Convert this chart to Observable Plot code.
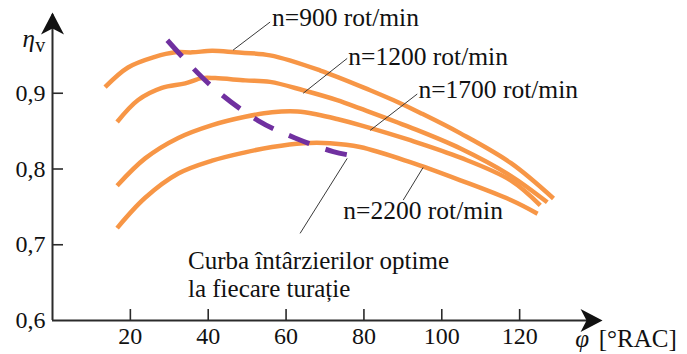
<!DOCTYPE html>
<html>
<head>
<meta charset="utf-8">
<script src="https://cdn.jsdelivr.net/npm/d3@7"></script>
<script src="https://cdn.jsdelivr.net/npm/@observablehq/plot@0.6"></script>
<style>
  html, body { margin: 0; padding: 0; background: #fff; }
  #chart svg { display: block; }
  #chart svg, #chart svg text {
    font-family: "Liberation Serif", "Times New Roman", serif !important;
  }
</style>
</head>
<body>
<div id="chart"></div>
<script>
// Volumetric efficiency vs. intake-valve closing delay, per engine speed
const phi900  = [13.5, 19.4, 26.3, 31.5, 35.9, 41.0, 46.9, 55.9, 68.8, 81.6, 87.5, 94.5, 104.8, 117.7, 128.7];
const eta900  = [0.908, 0.934, 0.948, 0.954, 0.954, 0.956, 0.954, 0.950, 0.930, 0.904, 0.891, 0.874, 0.847, 0.808, 0.761];

const phi1200 = [16.6, 22.0, 28.1, 34.1, 38.4, 41.8, 49.5, 55.9, 64.4, 73.1, 79.0, 91.9, 104.8, 117.7, 127.1];
const eta1200 = [0.862, 0.891, 0.907, 0.913, 0.920, 0.920, 0.917, 0.915, 0.904, 0.891, 0.880, 0.855, 0.827, 0.791, 0.756];

const phi1700 = [16.6, 23.8, 32.3, 41.0, 49.5, 56.4, 62.9, 68.0, 73.1, 79.0, 91.9, 104.8, 117.7, 125.3];
const eta1700 = [0.778, 0.814, 0.841, 0.858, 0.869, 0.875, 0.876, 0.872, 0.866, 0.858, 0.838, 0.815, 0.785, 0.752];

const phi2200 = [16.6, 23.8, 32.3, 41.0, 49.5, 56.4, 64.4, 71.3, 79.0, 91.9, 104.8, 117.7, 124.6];
const eta2200 = [0.722, 0.762, 0.794, 0.811, 0.822, 0.829, 0.834, 0.834, 0.829, 0.809, 0.785, 0.759, 0.741];

// Curve of optimum delays (dashed)
const phiOpt = [29.5, 40.5, 52.8, 62.3, 72.1, 77.8];
const etaOpt = [0.970, 0.911, 0.864, 0.841, 0.823, 0.817];

// Axis ticks
const xTicks = [20, 40, 60, 80, 100, 120];
const yTicks = [0.6, 0.7, 0.8, 0.9];
const yTickLabels = ["0,6", "0,7", "0,8", "0,9"];

// Speed labels and their leader lines (data units)
const labelText = ["n=900 rot/min", "n=1200 rot/min", "n=1700 rot/min", "n=2200 rot/min"];
const labelX = [56.4, 76.0, 94.0, 74.7];
const labelY = [1.000, 0.948, 0.905, 0.745];

// Note for the dashed curve
const noteText = "Curba întârzierilor optime\nla fiecare turație";
const noteX = 34.8;
const noteY = 0.6947;

const leadX1 = [46.4, 64.4, 81.6, 95.2, 75.7];
const leadY1 = [0.957, 0.900, 0.851, 0.802, 0.814];
const leadX2 = [55.9, 75.7, 93.7, 90.1, 63.6];
const leadY2 = [0.994, 0.946, 0.899, 0.759, 0.715];

// Axis extents (arrow tips)
const xTip = 141.3;
const yTip = 1.0066;

// ---- build tables ----
const series = [
  {phi: phi900, eta: eta900, n: 900},
  {phi: phi1200, eta: eta1200, n: 1200},
  {phi: phi1700, eta: eta1700, n: 1700},
  {phi: phi2200, eta: eta2200, n: 2200}
];
const curves = series.flatMap(s => s.phi.map((p, i) => ({phi: p, eta: s.eta[i], n: s.n})));
const optimum = phiOpt.map((p, i) => ({phi: p, eta: etaOpt[i]}));
const labels = labelText.map((t, i) => ({t, x: labelX[i], y: labelY[i]}));
const leaders = leadX1.map((x, i) => ({x1: x, y1: leadY1[i], x2: leadX2[i], y2: leadY2[i]}));
const yLabelOf = new Map(yTicks.map((v, i) => [v, yTickLabels[i]]));

const W = 687, H = 354;
const mL = 52, mR = 90, mT = 17, mB = 34;
const frameW = W - mL - mR;
const frameH = H - mT - mB;
const tickLen = 11;

const serif = "Liberation Serif, Times New Roman, serif";
const orange = "#F79646";
const purple = "#7030A0";
const axisColor = "#2b2b2b";
const ink = "#111";
const labelSize = 25.5;

// Filled arrowhead with a notched back, tip at the origin, pointing up
const arrowHead = {
  draw(ctx) {
    ctx.moveTo(0, 0);
    ctx.lineTo(11.5, 22);
    ctx.lineTo(0, 16);
    ctx.lineTo(-11.5, 22);
    ctx.closePath();
  }
};

const chart = Plot.plot({
  width: W,
  height: H,
  marginLeft: mL,
  marginRight: mR,
  marginTop: mT,
  marginBottom: mB,
  style: {fontFamily: serif, background: "#fff", color: ink, overflow: "visible"},
  x: {domain: [0, 140], label: null},
  y: {domain: [0.6, 1.0], label: null},
  marks: [
    // axis lines
    Plot.ruleY([0.6], {x1: 0, x2: xTip - 2, stroke: axisColor, strokeWidth: 2}),
    Plot.ruleX([0], {y1: 0.6, y2: yTip - 0.003, stroke: axisColor, strokeWidth: 2}),
    // inward tick marks
    Plot.tickX(xTicks, {x: d => d, insetTop: frameH - tickLen, stroke: axisColor, strokeWidth: 1.6}),
    Plot.tickY(yTicks.filter(v => v > 0.6), {y: d => d, insetRight: frameW - tickLen, stroke: axisColor, strokeWidth: 1.6}),
    // tick labels
    Plot.axisX({ticks: xTicks, tickSize: 0, tickPadding: 6, fontSize: 24, fontFamily: serif, fill: ink, label: null}),
    Plot.axisY({ticks: yTicks, tickSize: 0, tickPadding: 7, fontSize: 24, fontFamily: serif, fill: ink, label: null,
                tickFormat: d => yLabelOf.get(d)}),
    // arrowheads
    Plot.dot([{x: xTip, y: 0.6, a: 90}, {x: 0, y: yTip, a: 0}],
             {x: "x", y: "y", rotate: "a", symbol: arrowHead, fill: "#111", stroke: "none"}),
    // axis titles
    Plot.text([{x: -7.7, y: 0.971}], {x: "x", y: "y", text: () => "η", fontStyle: "italic",
               fontSize: 25, fontFamily: serif, textAnchor: "start", fill: ink}),
    Plot.text([{x: -4.4, y: 0.9624}], {x: "x", y: "y", text: () => "v",
               fontSize: 20, fontFamily: serif, textAnchor: "start", fill: ink}),
    Plot.text([{x: 134.3, y: 0.5762}], {x: "x", y: "y", text: () => "φ", fontStyle: "italic",
               fontSize: 25, fontFamily: serif, textAnchor: "start", fill: ink}),
    Plot.text([{x: 140.3, y: 0.5762}], {x: "x", y: "y", text: () => "[°RAC]",
               fontSize: 25, fontFamily: serif, textAnchor: "start", fill: ink}),
    // efficiency curves
    Plot.line(curves, {x: "phi", y: "eta", z: "n", stroke: orange, strokeWidth: 4.5,
                       strokeLinecap: "butt", curve: "catmull-rom"}),
    // optimum-delay curve
    Plot.line(optimum, {x: "phi", y: "eta", stroke: purple, strokeWidth: 5,
                        strokeDasharray: "22,17", strokeLinecap: "butt", curve: "catmull-rom"}),
    // leader lines and labels
    Plot.link(leaders, {x1: "x1", y1: "y1", x2: "x2", y2: "y2", stroke: "#3a3a3a", strokeWidth: 1}),
    Plot.text(labels, {x: "x", y: "y", text: "t", fontSize: labelSize, fontFamily: serif, textAnchor: "start", fill: ink}),
    Plot.text([{x: noteX, y: noteY}], {x: "x", y: "y", text: () => noteText, fontSize: 25, fontFamily: serif,
               textAnchor: "start", lineAnchor: "top", lineHeight: 1.12, fill: ink})
  ]
});

document.getElementById("chart").appendChild(chart);
</script>
</body>
</html>
